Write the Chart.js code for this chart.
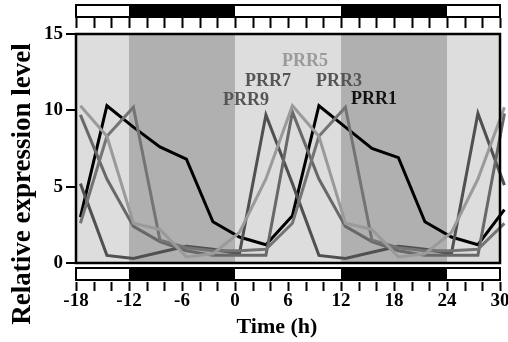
<!DOCTYPE html>
<html>
<head>
<meta charset="utf-8">
<script src="https://cdn.jsdelivr.net/npm/chart.js@4"></script>
<style>
  html, body { margin: 0; padding: 0; background: #fff; }
  #wrap { width: 508px; height: 342px; }
</style>
</head>
<body>
<div id="wrap"><canvas id="c" width="508" height="342"></canvas></div>
<script>
// sampling times (h), double plotted over 48 h
const times = [-17.5, -14.5, -11.5, -8.5, -5.5, -2.5, 0.5, 3.5, 6.5, 9.5, 12.5, 15.5, 18.5, 21.5, 24.5, 27.5, 30.5];

const prr1 = [3.0, 10.3, 8.9, 7.6, 6.8, 2.7, 1.7, 1.2, 3.1, 10.3, 8.9, 7.5, 6.9, 2.7, 1.7, 1.2, 3.5];
const prr3 = [2.6, 8.3, 10.2, 1.5, 1.0, 0.8, 0.8, 0.9, 2.6, 8.3, 10.2, 1.5, 1.0, 0.8, 0.8, 0.9, 2.6];
const prr5 = [10.3, 8.3, 2.6, 2.2, 0.4, 0.6, 2.0, 5.5, 10.3, 8.3, 2.6, 2.2, 0.4, 0.6, 2.0, 5.5, 10.2];
const prr7 = [9.7, 5.5, 2.4, 1.4, 0.8, 0.5, 0.5, 0.5, 9.9, 5.5, 2.4, 1.4, 0.8, 0.5, 0.5, 0.5, 9.8];
const prr9 = [5.2, 0.5, 0.3, 0.7, 1.1, 0.9, 0.6, 9.7, 5.2, 0.5, 0.3, 0.7, 1.1, 0.9, 0.6, 9.8, 5.1];

const xTicks = [-18, -16, -14, -12, -10, -8, -6, -4, -2, 0, 2, 4, 6, 8, 10, 12, 14, 16, 18, 20, 22, 24, 26, 28, 30];
const xLabels = [-18, -12, -6, 0, 6, 12, 18, 24, 30];
const darkPeriods = [[-12, 0], [12, 24]];

const series = [
  { label: 'PRR5', data: prr5, color: '#9a9a9a', text: '#9a9a9a', at: [282, 61] },
  { label: 'PRR3', data: prr3, color: '#747474', text: '#555555', at: [316, 81] },
  { label: 'PRR7', data: prr7, color: '#686868', text: '#555555', at: [245, 81] },
  { label: 'PRR9', data: prr9, color: '#505050', text: '#555555', at: [223, 100] },
  { label: 'PRR1', data: prr1, color: '#000000', text: '#111111', at: [351, 99] },
];

const serif = '"Liberation Serif", "Times New Roman", Times, serif';

const lightDarkPlugin = {
  id: 'lightDark',
  beforeDatasetsDraw(chart) {
    const { ctx, chartArea: a, scales: { x } } = chart;
    ctx.save();
    ctx.fillStyle = '#dddddd';
    ctx.fillRect(a.left, a.top, a.right - a.left, a.bottom - a.top);
    ctx.fillStyle = '#b0b0b0';
    darkPeriods.forEach(([s, e]) => {
      const x0 = x.getPixelForValue(s);
      const x1 = x.getPixelForValue(e);
      ctx.fillRect(x0, a.top, x1 - x0, a.bottom - a.top);
    });
    ctx.restore();
  },
  afterDatasetsDraw(chart) {
    const { ctx, chartArea: a, scales: { x } } = chart;
    ctx.save();

    // frame
    ctx.strokeStyle = '#000';
    ctx.lineWidth = 2.5;
    ctx.strokeRect(a.left, a.top, a.right - a.left, a.bottom - a.top);

    // light/dark bars above and below
    const bars = [[5, 12], [268, 12]];
    bars.forEach(([top, h]) => {
      ctx.fillStyle = '#fff';
      ctx.fillRect(a.left, top, a.right - a.left, h);
      ctx.fillStyle = '#000';
      darkPeriods.forEach(([s, e]) => {
        const x0 = x.getPixelForValue(s);
        const x1 = x.getPixelForValue(e);
        ctx.fillRect(x0, top, x1 - x0, h);
      });
      ctx.lineWidth = 2;
      ctx.strokeRect(a.left, top, a.right - a.left, h);
    });

    // ticks
    ctx.lineWidth = 2;
    xTicks.forEach(t => {
      const px = Math.round(x.getPixelForValue(t)) + 0.5;
      ctx.beginPath();
      ctx.moveTo(px, 18);
      ctx.lineTo(px, 28);
      ctx.moveTo(px, 282);
      ctx.lineTo(px, 291);
      ctx.stroke();
    });

    // tick labels
    ctx.fillStyle = '#000';
    ctx.font = 'bold 19px ' + serif;
    ctx.textAlign = 'center';
    ctx.textBaseline = 'top';
    xLabels.forEach(t => {
      ctx.fillText(String(t), x.getPixelForValue(t), 292);
    });

    // axis titles
    ctx.font = 'bold 22px ' + serif;
    ctx.textBaseline = 'middle';
    ctx.fillText('Time (h)', 277, 327);

    ctx.save();
    ctx.translate(23, 184);
    ctx.rotate(-Math.PI / 2);
    ctx.font = 'bold 27px ' + serif;
    ctx.fillText('Relative expression level', 0, 0);
    ctx.restore();

    // gene labels
    ctx.font = 'bold 18px ' + serif;
    ctx.textAlign = 'left';
    series.forEach(s => {
      ctx.fillStyle = s.text;
      ctx.fillText(s.label, s.at[0], s.at[1]);
    });

    ctx.restore();
  }
};

function draw() {
  new Chart(document.getElementById('c'), {
    type: 'line',
    data: {
      datasets: series.map(s => ({
        label: s.label,
        data: times.map((t, i) => ({ x: t, y: s.data[i] })),
        borderColor: s.color,
        borderWidth: 3,
        pointRadius: 0,
        tension: 0,
        clip: false,
      })),
    },
    options: {
      responsive: false,
      animation: false,
      layout: { padding: { top: 34, right: 8, bottom: 79, left: 0 } },
      scales: {
        x: { type: 'linear', min: -18, max: 30, display: false },
        y: {
          min: 0,
          max: 15,
          afterFit(scale) { scale.width = 76; },
          border: { display: false },
          grid: { drawOnChartArea: false, drawTicks: true, tickLength: 10, color: '#000', lineWidth: 2 },
          ticks: {
            stepSize: 5,
            padding: 3,
            color: '#000',
            font: { family: serif, size: 19, weight: 'bold' },
          },
        },
      },
      plugins: {
        legend: { display: false },
        tooltip: { enabled: false },
      },
    },
    plugins: [lightDarkPlugin],
  });
}

document.fonts.load('bold 19px "Liberation Serif"').then(draw, draw);
</script>
</body>
</html>
